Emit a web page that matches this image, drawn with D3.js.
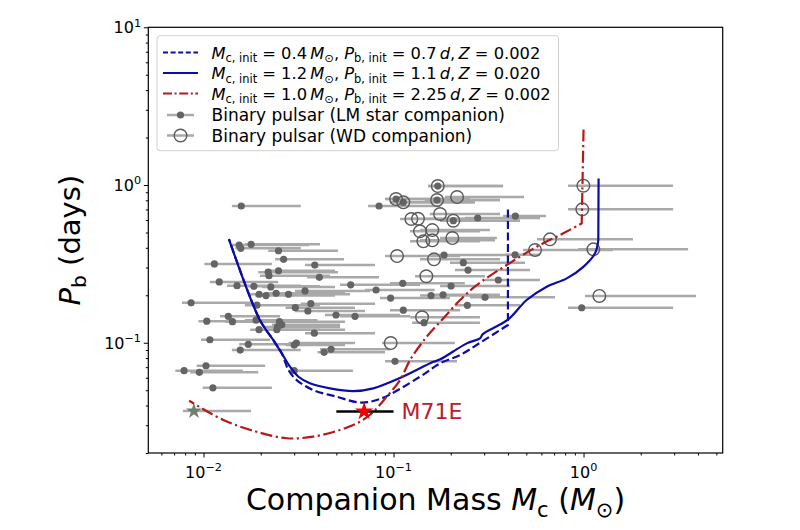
<!DOCTYPE html>
<html>
<head>
<meta charset="utf-8">
<script src="https://cdn.jsdelivr.net/npm/d3@7"></script>
<style>
  body { margin: 0; background: #fff; }
  svg { font-family: "DejaVu Sans", sans-serif; }
  text { white-space: pre; }
</style>
</head>
<body>
<div id="chart"></div>
<script>
// binary pulsars with low-mass star companions (filled dots)
var lmMass = [0.0158,0.0839,0.0154,0.0157,0.0178,0.0248,0.0264,0.0114,0.0385,0.0219,0.0221,0.0248,0.0407,0.0121,0.0150,0.0184,0.0226,0.0196,0.0213,0.0241,0.0280,0.0342,0.0086,0.0191,0.0367,0.0304,0.0354,0.0135,0.0142,0.0104,0.0189,0.0251,0.0258,0.0498,0.0627,0.0196,0.0243,0.0245,0.0383,0.0108,0.0172,0.0308,0.0300,0.0156,0.0431,0.0469,0.0103,0.0079,0.0095,0.0300,0.0112,0.1018,0.0595,0.1118,0.2008,0.0809,0.0965,0.1575,0.1822,0.2446,0.1126,0.1447,0.1844,0.233,0.2466,0.2773,0.4376,0.436,0.356,0.3031,0.978,0.1709,0.1031,0.1126,0.1694,0.2064];
var lmPb   = [0.736,0.736,0.416,0.397,0.421,0.383,0.338,0.316,0.311,0.280,0.266,0.286,0.260,0.243,0.230,0.228,0.226,0.203,0.199,0.206,0.203,0.213,0.179,0.173,0.177,0.167,0.159,0.147,0.136,0.137,0.139,0.136,0.130,0.150,0.147,0.121,0.121,0.126,0.115,0.1045,0.0977,0.0996,0.0967,0.0899,0.0869,0.0908,0.0715,0.0665,0.0649,0.0665,0.0518,0.0762,0.233,0.238,0.229,0.216,0.192,0.199,0.2015,0.1727,0.161,0.134,0.360,0.322,0.289,0.618,0.636,0.361,0.250,0.194,0.1667,0.9855,0.815,0.777,0.803,0.594];
var lmLo   = [0.0141,0.0734,0.0141,0.0147,0.0165,0.0219,0.0238,0.0101,0.0342,0.0194,0.0198,0.0211,0.0351,0.0108,0.0133,0.0165,0.0203,0.0176,0.0187,0.0211,0.0253,0.0303,0.0077,0.0165,0.0325,0.0270,0.0303,0.0122,0.0130,0.0094,0.0165,0.0224,0.0229,0.0436,0.0523,0.0176,0.0211,0.0211,0.0342,0.0097,0.0154,0.0280,0.0270,0.0141,0.0398,0.0410,0.0092,0.0071,0.0085,0.0280,0.0099,0.0902,0.0523,0.0958,0.1757,0.0707,0.0849,0.1378,0.1553,0.2104,0.0958,0.1252,0.1553,0.198,0.2104,0.2374,0.377,0.386,0.3026,0.2523,0.829,0.152,0.0902,0.0958,0.1462,0.1757];
var lmHi   = [0.0325,0.176,0.0359,0.0325,0.0410,0.0510,0.0549,0.0229,0.0799,0.0510,0.0463,0.0492,0.0839,0.0247,0.0325,0.0410,0.0492,0.0463,0.0492,0.0556,0.0590,0.0751,0.0180,0.0410,0.0799,0.0627,0.0708,0.0253,0.0286,0.0211,0.0398,0.0556,0.0523,0.1082,0.1222,0.0410,0.0556,0.0523,0.0799,0.0224,0.0342,0.0627,0.0556,0.0325,0.0902,0.0958,0.0211,0.0161,0.0194,0.0612,0.0229,0.2159,0.1378,0.2374,0.4103,0.1646,0.198,0.3216,0.3634,0.463,0.2239,0.285,0.4103,0.492,0.523,0.590,0.635,0.590,0.590,0.7078,2.96,0.377,0.2523,0.268,0.3634,0.463];

// binary pulsars with white dwarf companions (open circles)
var wdMass = [0.1709,0.1031,0.1126,0.1694,0.2064,0.2159,0.1757,0.1241,0.1345,0.1378,0.160,0.1435,0.160,0.2039,0.1043,0.1633,0.1488,0.1413,0.0966,0.666,0.5555,1.126,1.211,0.998,0.985];
var wdPb   = [0.9855,0.815,0.777,0.803,0.594,0.839,0.655,0.609,0.611,0.5085,0.518,0.4395,0.446,0.461,0.3546,0.338,0.264,0.145,0.0996,0.4525,0.387,0.391,0.198,0.99,0.701];
var wdLo   = [0.152,0.0902,0.0958,0.1462,0.1757,0.1865,0.1553,0.1082,0.115,0.1222,0.1378,0.1222,0.1378,0.1757,0.0902,0.1378,0.1298,0.1222,0.087,0.569,0.480,0.936,1.018,0.829,0.829];
var wdHi   = [0.377,0.2523,0.268,0.3634,0.463,0.486,0.3634,0.2523,0.268,0.285,0.3216,0.285,0.3418,0.35,0.2239,0.3634,0.3026,0.285,0.21,1.82,1.43,3.55,3.91,2.96,2.96];

// evolution tracks (first point = initial state, first segment is drawn straight)
var trackAMass = [0.4,0.4,0.291,0.224,0.1757,0.1378,0.0849,0.0666,0.0502,0.0378,0.0309,0.028,0.0258,0.0233,0.0198,0.0136];
var trackAPb   = [0.7,0.1295,0.1015,0.0836,0.074,0.0609,0.044,0.0418,0.0455,0.0501,0.058,0.0671,0.0857,0.104,0.1393,0.4546];
var trackBMass = [1.2,1.196,1.149,0.998,0.816,0.640,0.502,0.40,0.295,0.285,0.243,0.176,0.161,0.108,0.0783,0.0614,0.0463,0.0363,0.0316,0.0285,0.0258,0.0233,0.0198,0.0136];
var trackBPb   = [1.1,0.448,0.369,0.303,0.256,0.2265,0.1866,0.14,0.1135,0.1066,0.0991,0.0785,0.0754,0.0597,0.0514,0.0494,0.0514,0.0553,0.0609,0.0705,0.0857,0.104,0.1393,0.4546];
var trackCMass = [1.0,0.978,0.783,0.567,0.394,0.274,0.224,0.183,0.1495,0.1222,0.1082,0.0921,0.0783,0.0666,0.0523,0.0378,0.0274,0.019,0.0127,0.0084];
var trackCPb   = [2.25,0.5715,0.494,0.406,0.311,0.232,0.1866,0.1428,0.1092,0.0777,0.058,0.0455,0.0365,0.0316,0.028,0.0254,0.0248,0.0273,0.0324,0.0429];

// M71E and the grey star: mass, period, mass low, mass high
var m71e = [0.07, 0.0367, 0.05, 0.1];
var greyStar = [0.0089, 0.0369, 0.0078, 0.0178];

var xMajor = [0.01, 0.1, 1];
var xMajorExp = ["\u22122", "\u22121", "0"];
var yMajor = [0.1, 1, 10];
var yMajorExp = ["\u22121", "0", "1"];

var width = 800, height = 530;
var plotL = 148.3, plotR = 722.7, plotT = 27.3, plotB = 453;

var blue = "#0c0ca8", red = "#b81818";
var THIN = "\u2009";

var svg = d3.select("#chart").append("svg")
  .attr("width", width).attr("height", height);

var x = d3.scaleLog().domain([0.00512, 5.4]).range([plotL, plotR]);
var y = d3.scaleLog().domain([0.02, 10]).range([plotB, plotT]);

function minors(lo, hi) {
  var out = [];
  for (var k = -3; k <= 1; k++) {
    for (var j = 2; j <= 9; j++) {
      var v = j * Math.pow(10, k);
      if (v >= lo && v <= hi) out.push(v);
    }
  }
  return out;
}

// rich text with italic parts, subscripts and superscripts
function addRich(textSel, parts, fs) {
  var cur = 0;
  parts.forEach(function(p) {
    var off = p.sub ? 0.22 * fs : (p.sup ? -0.42 * fs : 0);
    var ts = textSel.append("tspan").text(p.t)
      .attr("dy", off - cur)
      .style("font-size", (p.sub || p.sup) ? (0.7 * fs) + "px" : fs + "px");
    if (p.it) ts.style("font-style", "italic");
    cur = off;
  });
}

// axes
var xAxis = svg.append("g").attr("transform", "translate(0," + plotB + ")")
  .call(d3.axisBottom(x).tickValues(xMajor).tickSize(4.5).tickFormat(""));
var xMinor = svg.append("g").attr("transform", "translate(0," + plotB + ")")
  .call(d3.axisBottom(x).tickValues(minors(0.00512, 5.4)).tickSize(2.5).tickFormat(""));
var yAxis = svg.append("g").attr("transform", "translate(" + plotL + ",0)")
  .call(d3.axisLeft(y).tickValues(yMajor).tickSize(4.5).tickFormat(""));
var yMinor = svg.append("g").attr("transform", "translate(" + plotL + ",0)")
  .call(d3.axisLeft(y).tickValues(minors(0.02, 10)).tickSize(2.5).tickFormat(""));
[xAxis, xMinor, yAxis, yMinor].forEach(function(g) {
  g.select(".domain").remove();
  g.selectAll("line").attr("stroke", "#000").attr("stroke-width", 1);
});

xMajor.forEach(function(v, i) {
  var t = svg.append("text").attr("x", x(v)).attr("y", 478)
    .attr("text-anchor", "middle").attr("fill", "#000");
  addRich(t, [{t: "10"}, {t: xMajorExp[i], sup: true}], 16);
});
yMajor.forEach(function(v, i) {
  var t = svg.append("text").attr("x", 141).attr("y", y(v) + 6)
    .attr("text-anchor", "end").attr("fill", "#000");
  addRich(t, [{t: "10"}, {t: yMajorExp[i], sup: true}], 16);
});

// axis titles
var xt = svg.append("text").attr("x", (plotL + plotR) / 2).attr("y", 510)
  .attr("text-anchor", "middle").attr("fill", "#000");
addRich(xt, [{t: "Companion Mass "}, {t: "M", it: true}, {t: "c", sub: true},
             {t: " ("}, {t: "M", it: true}, {t: "\u2299", sub: true}, {t: ")"}], 30);

var yt = svg.append("text").attr("transform", "translate(80," + ((plotT + plotB) / 2) + ") rotate(-90)")
  .attr("text-anchor", "middle").attr("fill", "#000");
addRich(yt, [{t: "P", it: true}, {t: "b", sub: true}, {t: " (days)"}], 29);

// plot area
svg.append("clipPath").attr("id", "clip").append("rect")
  .attr("x", plotL).attr("y", plotT).attr("width", plotR - plotL).attr("height", plotB - plotT);
var plot = svg.append("g").attr("clip-path", "url(#clip)");

var lmData = lmMass.map(function(m, i) { return {m: m, p: lmPb[i], lo: lmLo[i], hi: lmHi[i]}; });
var wdData = wdMass.map(function(m, i) { return {m: m, p: wdPb[i], lo: wdLo[i], hi: wdHi[i]}; });

plot.selectAll(".bar").data(lmData.concat(wdData)).enter().append("line")
  .attr("x1", function(d) { return x(d.lo); })
  .attr("x2", function(d) { return x(d.hi); })
  .attr("y1", function(d) { return y(d.p); })
  .attr("y2", function(d) { return y(d.p); })
  .attr("stroke", "#a9a9a9").attr("stroke-width", 2.5);

plot.append("line")
  .attr("x1", x(greyStar[2])).attr("x2", x(greyStar[3]))
  .attr("y1", y(greyStar[1])).attr("y2", y(greyStar[1]))
  .attr("stroke", "#a9a9a9").attr("stroke-width", 2.5);

plot.selectAll(".lm").data(lmData).enter().append("circle")
  .attr("cx", function(d) { return x(d.m); })
  .attr("cy", function(d) { return y(d.p); })
  .attr("r", 3.6).attr("fill", "#646464");

plot.selectAll(".wd").data(wdData).enter().append("circle")
  .attr("cx", function(d) { return x(d.m); })
  .attr("cy", function(d) { return y(d.p); })
  .attr("r", 6.3).attr("fill", "none").attr("stroke", "#5a5a5a").attr("stroke-width", 1.4);

plot.append("path")
  .attr("d", d3.symbol().type(d3.symbolStar).size(80)())
  .attr("transform", "translate(" + x(greyStar[0]) + "," + y(greyStar[1]) + ")")
  .attr("fill", "#6f806f");

// evolution tracks: straight first leg, smooth afterwards
var smooth = d3.line().curve(d3.curveCatmullRom.alpha(0.5))
  .x(function(d) { return x(d[0]); }).y(function(d) { return y(d[1]); });

function trackPath(ms, ps) {
  var pts = ms.map(function(m, i) { return [m, ps[i]]; });
  var rest = smooth(pts.slice(1));
  return "M" + x(pts[0][0]) + "," + y(pts[0][1]) + "L" + rest.slice(1);
}

plot.append("path").attr("d", trackPath(trackBMass, trackBPb))
  .attr("fill", "none").attr("stroke", blue).attr("stroke-width", 2.2)
  .attr("stroke-linejoin", "round");
plot.append("path").attr("d", trackPath(trackAMass, trackAPb))
  .attr("fill", "none").attr("stroke", blue).attr("stroke-width", 2.2)
  .attr("stroke-dasharray", "8,3.5");
plot.append("path").attr("d", trackPath(trackCMass, trackCPb))
  .attr("fill", "none").attr("stroke", red).attr("stroke-width", 2.2)
  .attr("stroke-dasharray", "12,3.5,2.2,3.5");

// M71E
plot.append("line")
  .attr("x1", x(m71e[2])).attr("x2", x(m71e[3]))
  .attr("y1", y(m71e[1])).attr("y2", y(m71e[1]))
  .attr("stroke", "#000").attr("stroke-width", 2.5);
plot.append("path")
  .attr("d", d3.symbol().type(d3.symbolStar).size(105)())
  .attr("transform", "translate(" + x(m71e[0]) + "," + y(m71e[1]) + ")")
  .attr("fill", "#ee0000");
svg.append("text").attr("x", 401.5).attr("y", 418.5)
  .attr("fill", "#b8202a").style("font-size", "22px").text("M71E");

// frame
svg.append("rect").attr("x", plotL).attr("y", plotT)
  .attr("width", plotR - plotL).attr("height", plotB - plotT)
  .attr("fill", "none").attr("stroke", "#000").attr("stroke-width", 1.2);

// legend
var legend = svg.append("g");
legend.append("rect").attr("x", 157).attr("y", 35.7).attr("width", 401.5).attr("height", 115)
  .attr("rx", 3).attr("fill", "#fff").attr("fill-opacity", 0.8)
  .attr("stroke", "#d0d0d0").attr("stroke-width", 1);

var rowBase = [58.5, 79, 99.5, 121, 141.5];
var hx1 = 163, hx2 = 198, tx = 211.5, lfs = 17;

function paramParts(mc, pb, z) {
  return [{t: "M", it: true}, {t: "c, init", sub: true}, {t: " = " + mc + THIN},
          {t: "M", it: true}, {t: "\u2299", sub: true}, {t: ", "},
          {t: "P", it: true}, {t: "b, init", sub: true}, {t: " = " + pb + THIN},
          {t: "d", it: true}, {t: "," + THIN}, {t: "Z", it: true}, {t: " = " + z}];
}

var lineRows = [
  {dash: "5,2.6", color: blue, parts: paramParts("0.4", "0.7", "0.002")},
  {dash: null, color: blue, parts: paramParts("1.2", "1.1", "0.020")},
  {dash: "9,2.6,2,2.6", color: red, parts: paramParts("1.0", "2.25", "0.002")}
];
lineRows.forEach(function(r, i) {
  var cy = rowBase[i] - 6;
  var l = legend.append("line").attr("x1", hx1).attr("x2", hx2).attr("y1", cy).attr("y2", cy)
    .attr("stroke", r.color).attr("stroke-width", 2.2);
  if (r.dash) l.attr("stroke-dasharray", r.dash);
  var t = legend.append("text").attr("x", tx).attr("y", rowBase[i]).attr("fill", "#000");
  addRich(t, r.parts, 16.3);
});

var c4 = rowBase[3] - 6, c5 = rowBase[4] - 6;
legend.append("line").attr("x1", hx1 + 4).attr("x2", hx2 - 4).attr("y1", c4).attr("y2", c4)
  .attr("stroke", "#a9a9a9").attr("stroke-width", 2.5);
legend.append("circle").attr("cx", (hx1 + hx2) / 2).attr("cy", c4).attr("r", 3.6).attr("fill", "#646464");
legend.append("text").attr("x", tx).attr("y", rowBase[3]).attr("fill", "#000")
  .style("font-size", lfs + "px").text("Binary pulsar (LM star companion)");

legend.append("line").attr("x1", hx1 + 4).attr("x2", hx2 - 4).attr("y1", c5).attr("y2", c5)
  .attr("stroke", "#a9a9a9").attr("stroke-width", 2.5);
legend.append("circle").attr("cx", (hx1 + hx2) / 2).attr("cy", c5).attr("r", 6.3)
  .attr("fill", "none").attr("stroke", "#5a5a5a").attr("stroke-width", 1.4);
legend.append("text").attr("x", tx).attr("y", rowBase[4]).attr("fill", "#000")
  .style("font-size", lfs + "px").text("Binary pulsar (WD companion)");
</script>
</body>
</html>
